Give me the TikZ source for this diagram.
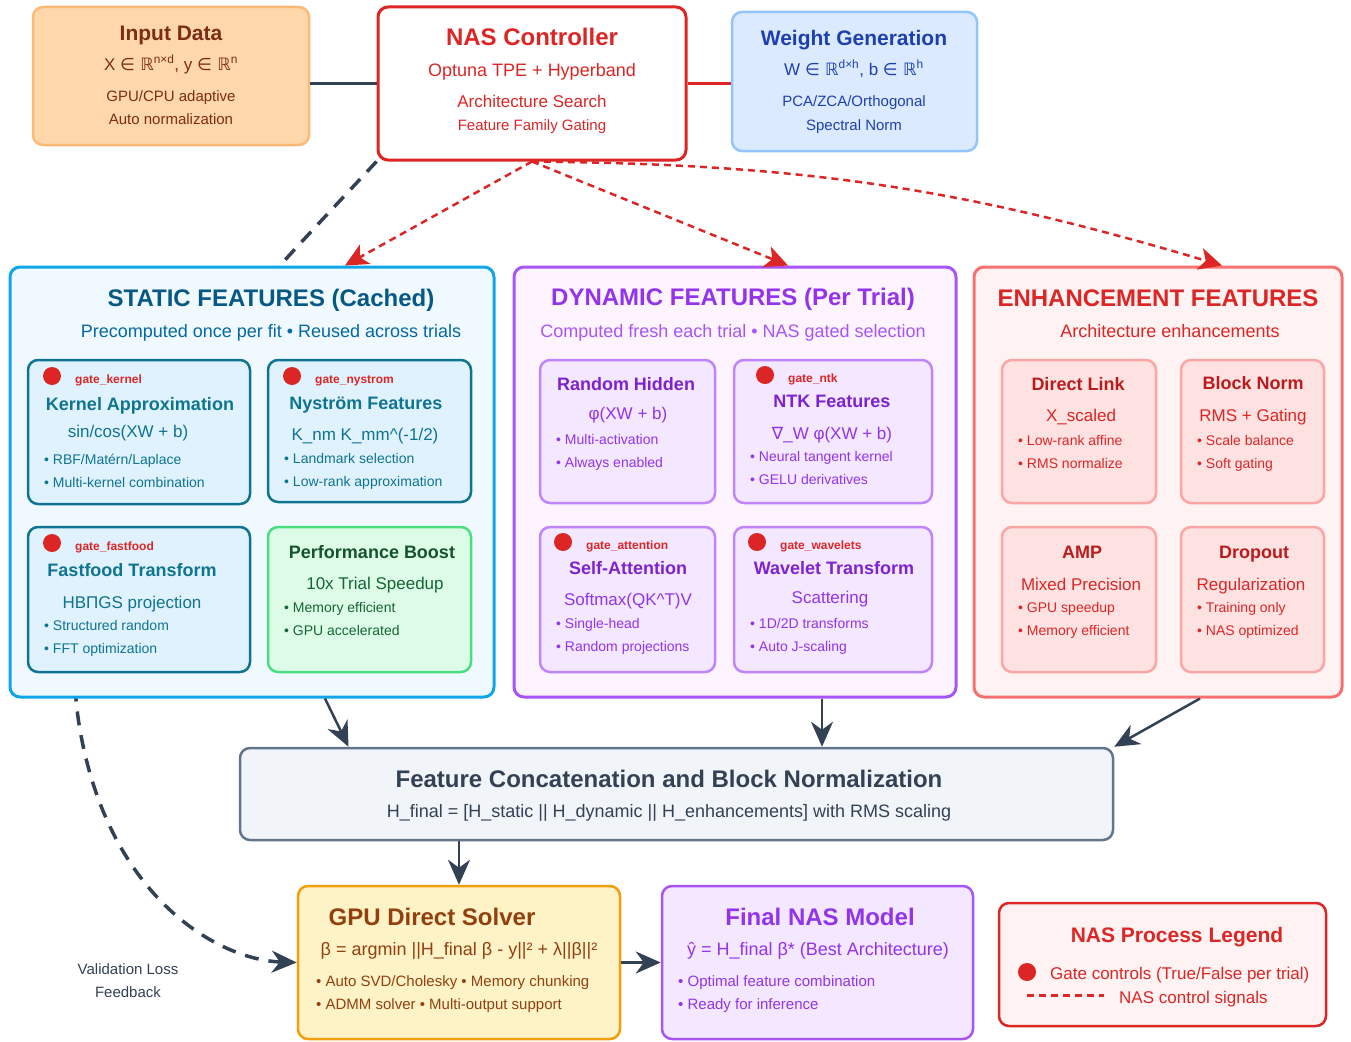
\documentclass[tikz,border=0pt]{standalone}
\usepackage{fontspec}
\setmainfont{Liberation Sans}
\newfontfamily\dejavu{DejaVu Sans}
\usetikzlibrary{arrows.meta}
\definecolor{NasRed}{HTML}{DC2626}
\definecolor{SlateDark}{HTML}{334155}
\definecolor{SlateLine}{HTML}{64748B}
\definecolor{SlateFill}{HTML}{F1F5F9}
\definecolor{InputFill}{HTML}{FED7AA}
\definecolor{InputLine}{HTML}{FDBA74}
\definecolor{InputText}{HTML}{7C2D12}
\definecolor{WeightFill}{HTML}{DBEAFE}
\definecolor{WeightLine}{HTML}{93C5FD}
\definecolor{WeightText}{HTML}{1E40AF}
\definecolor{StaticFill}{HTML}{F0F9FF}
\definecolor{StaticLine}{HTML}{0EA5E9}
\definecolor{StaticText}{HTML}{075985}
\definecolor{StaticSub}{HTML}{0369A1}
\definecolor{CardBlue}{HTML}{E0F2FE}
\definecolor{CardTeal}{HTML}{0E7490}
\definecolor{BoostFill}{HTML}{DCFCE7}
\definecolor{BoostLine}{HTML}{4ADE80}
\definecolor{BoostText}{HTML}{166534}
\definecolor{BoostHead}{HTML}{14532D}
\definecolor{DynFill}{HTML}{FDF4FF}
\definecolor{DynLine}{HTML}{A855F7}
\definecolor{DynText}{HTML}{9333EA}
\definecolor{CardPurple}{HTML}{F3E8FF}
\definecolor{CardPurpleLine}{HTML}{C084FC}
\definecolor{CardPurpleHead}{HTML}{7E22CE}
\definecolor{EnhFill}{HTML}{FEF2F2}
\definecolor{EnhLine}{HTML}{F87171}
\definecolor{EnhCard}{HTML}{FEE2E2}
\definecolor{EnhCardLine}{HTML}{FCA5A5}
\definecolor{EnhHead}{HTML}{B91C1C}
\definecolor{SolverFill}{HTML}{FEF3C7}
\definecolor{SolverLine}{HTML}{F59E0B}
\definecolor{SolverText}{HTML}{92400E}

\tikzset{
  panel/.style 2 args={draw=#1, fill=#2, line width=2.5pt, rounded corners=10pt, inner sep=0pt},
  dot/.style={circle, fill=NasRed, minimum size=18pt, inner sep=0pt},
  bighead/.style={inner sep=0pt, font=\fontsize{24}{28}\selectfont\bfseries, text height=17.2pt, text depth=0pt},
  midhead/.style={inner sep=0pt, font=\fontsize{21}{25}\selectfont\bfseries, text height=15pt, text depth=0pt},
  cardhead/.style={inner sep=0pt, font=\fontsize{18}{22}\selectfont\bfseries, text height=12.9pt, text depth=0pt},
  lead/.style={inner sep=0pt, font=\fontsize{18}{22}\selectfont, text height=12.9pt, text depth=0pt},
  eqn/.style={inner sep=0pt, font=\fontsize{17}{20}\selectfont, text height=12.2pt, text depth=0pt},
  smalltxt/.style={inner sep=0pt, font=\fontsize{15}{18}\selectfont, text height=10.7pt, text depth=0pt},
  bul/.style={inner sep=0pt, anchor=west, font=\fontsize{14}{17}\selectfont, text height=10pt, text depth=0pt},
  gatelbl/.style={inner sep=0pt, anchor=west, text=NasRed, font=\fontsize{12}{14}\selectfont\bfseries, text height=8.6pt, text depth=0pt},
  flow/.style={SlateDark, line width=2.5pt, -{Stealth[length=25pt,width=22pt,inset=8pt]}},
  ctrl/.style={NasRed, line width=2.5pt, dash pattern=on 7pt off 5pt, -{Stealth[length=23pt,width=22pt,inset=6pt]}},
}

\begin{document}
\begin{tikzpicture}[x=1pt,y=-1pt,line join=round]
  \useasboundingbox (0,0) rectangle (1351,1041);

  % top row
  \node[panel={InputLine}{InputFill}, minimum width=276pt, minimum height=138pt] (inp) at (171,76) {};
  \node[midhead, text=InputText] (inpT) at (171,33) {Input Data};
  \node[eqn, text=InputText] (inpE) at (171,64) {X {\dejavu ∈ ℝ}\textsuperscript{n×d}, y {\dejavu ∈ ℝ}\textsuperscript{n}};
  \node[smalltxt, text=InputText] (inpA) at (171,96) {GPU/CPU adaptive};
  \node[smalltxt, text=InputText] (inpB) at (171,119) {Auto normalization};

  \node[panel={NasRed}{white}, line width=3pt, minimum width=308pt, minimum height=153pt] (nas) at (532,83.5) {};
  \node[bighead, text=NasRed] (nasT) at (532,37) {NAS Controller};
  \node[lead, text=NasRed] (nasA) at (532,70) {Optuna TPE + Hyperband};
  \node[eqn, text=NasRed] (nasB) at (532,101) {Architecture Search};
  \node[smalltxt, text=NasRed] (nasC) at (532,125) {Feature Family Gating};

  \node[panel={WeightLine}{WeightFill}, minimum width=245pt, minimum height=139pt] (wgt) at (854.5,81.5) {};
  \node[midhead, text=WeightText] (wgtT) at (854,38) {Weight Generation};
  \node[eqn, text=WeightText] (wgtE) at (854,69) {W {\dejavu ∈ ℝ}\textsuperscript{d×h}, b {\dejavu ∈ ℝ}\textsuperscript{h}};
  \node[smalltxt, text=WeightText] (wgtA) at (854,101) {PCA/ZCA/Orthogonal};
  \node[smalltxt, text=WeightText] (wgtB) at (854,125) {Spectral Norm};

  \draw[SlateDark, line width=2.5pt] (inp.east |- nas.west) -- (nas.west);
  \draw[NasRed, line width=2.5pt] (nas.east) -- (wgt.west |- nas.east);

  % bottom row
  \node[panel={SlateLine}{SlateFill}, minimum width=873pt, minimum height=92pt] (cat) at (676.5,794) {};
  \node[bighead, text=SlateDark] (catT) at (669,779) {Feature Concatenation and Block Normalization};
  \node[lead, text=SlateDark] (catE) at (669,811) {H\_final = [H\_static || H\_dynamic || H\_enhancements] with RMS scaling};

  \node[panel={SolverLine}{SolverFill}, minimum width=322pt, minimum height=153pt] (gpu) at (459,962.5) {};
  \node[bighead, text=SolverText] (gpuT) at (432,917) {GPU Direct Solver};
  \node[lead, text=SolverText] (gpuE) at (459,949) {β = argmin ||H\_final β - y||² + λ||β||²};
  \node[bul, font=\fontsize{15}{18}\selectfont, text=SolverText] (gpuA) at (316,981) {• Auto SVD/Cholesky • Memory chunking};
  \node[bul, font=\fontsize{15}{18}\selectfont, text=SolverText] (gpuB) at (316,1004) {• ADMM solver • Multi-output support};

  \node[panel={DynLine}{CardPurple}, minimum width=311pt, minimum height=153pt] (fin) at (817.5,962.5) {};
  \node[bighead, text=DynText] (finT) at (820,917) {Final NAS Model};
  \node[lead, text=DynText] (finE) at (818,949) {ŷ = H\_final β* (Best Architecture)};
  \node[bul, font=\fontsize{15}{18}\selectfont, text=DynText] (finA) at (678,981) {• Optimal feature combination};
  \node[bul, font=\fontsize{15}{18}\selectfont, text=DynText] (finB) at (678,1004) {• Ready for inference};

  \node[panel={NasRed}{EnhFill}, minimum width=327pt, minimum height=123pt] (leg) at (1162.5,964.5) {};
  \node[midhead, text=NasRed] (legT) at (1177,935) {NAS Process Legend};
  \node[dot] (legDot) at (1027,972) {};
  \node[bul, font=\fontsize{17}{20}\selectfont, text=NasRed] (legA) at (1050,974) {Gate controls (True/False per trial)};
  \coordinate (legL) at (1027,995);
  \coordinate (legR) at (1104,995);
  \draw[NasRed, line width=3pt, dash pattern=on 7pt off 5pt] (legL) -- (legR);
  \node[bul, font=\fontsize{17}{20}\selectfont, text=NasRed] (legB) at (1119,998) {NAS control signals};

  % feedback loop, drawn before the static panel which hides its middle
  \coordinate (fbMid) at (80,730);
  \draw[SlateDark, line width=3.5pt, dash pattern=on 14pt off 10pt, -{Stealth[length=25pt,width=22pt,inset=8pt]}]
    (nas.south west) .. controls (230,320) and (40,500) .. (fbMid)
    .. controls (110,900) and (220,960) .. (gpu.west);
  \node[smalltxt, text=SlateDark] (fbA) at (128,969) {Validation Loss};
  \node[smalltxt, text=SlateDark] (fbB) at (128,992) {Feedback};

  % static panel
  \node[panel={StaticLine}{StaticFill}, line width=3pt, minimum width=484pt, minimum height=430pt] (stat) at (252,482) {};
  \node[bighead, text=StaticText] (statT) at (271,298) {STATIC FEATURES (Cached)};
  \node[lead, text=StaticSub] (statS) at (271,331) {Precomputed once per fit • Reused across trials};
  \begin{scope}[text=CardTeal]
    \node[panel={CardTeal}{CardBlue}, minimum width=222pt, minimum height=144pt] (kern) at (139,432) {};
    \node[dot] (kernDot) at (52,376) {};
    \node[gatelbl] (kernG) at (75,379) {gate\_kernel};
    \node[cardhead] (kernT) at (140,404) {Kernel Approximation};
    \node[eqn] (kernE) at (128,431) {sin/cos(XW + b)};
    \node[bul] (kernA) at (44,459) {• RBF/Matérn/Laplace};
    \node[bul] (kernB) at (44,482) {• Multi-kernel combination};

    \node[panel={CardTeal}{CardBlue}, minimum width=203pt, minimum height=142pt] (nys) at (369.5,431) {};
    \node[dot] (nysDot) at (292,376) {};
    \node[gatelbl] (nysG) at (315,379) {gate\_nystrom};
    \node[cardhead] (nysT) at (366,403) {Nyström Features};
    \node[eqn] (nysE) at (365,434) {K\_nm K\_mm\textasciicircum(-1/2)};
    \node[bul] (nysA) at (284,458) {• Landmark selection};
    \node[bul] (nysB) at (284,481) {• Low-rank approximation};

    \node[panel={CardTeal}{CardBlue}, minimum width=222pt, minimum height=145pt] (ffd) at (139,599.5) {};
    \node[dot] (ffdDot) at (52,543) {};
    \node[gatelbl] (ffdG) at (75,546) {gate\_fastfood};
    \node[cardhead] (ffdT) at (132,570) {Fastfood Transform};
    \node[eqn] (ffdE) at (132,602) {HBΠGS projection};
    \node[bul] (ffdA) at (44,625) {• Structured random};
    \node[bul] (ffdB) at (44,648) {• FFT optimization};
  \end{scope}
  \begin{scope}[text=BoostText]
    \node[panel={BoostLine}{BoostFill}, minimum width=203pt, minimum height=145pt] (perf) at (369.5,599.5) {};
    \node[cardhead, text=BoostHead] (perfT) at (372,552) {Performance Boost};
    \node[eqn] (perfE) at (375,583) {10x Trial Speedup};
    \node[bul] (perfA) at (284,607) {• Memory efficient};
    \node[bul] (perfB) at (284,630) {• GPU accelerated};
  \end{scope}

  % dynamic panel
  \node[panel={DynLine}{DynFill}, line width=3pt, minimum width=442pt, minimum height=430pt] (dyn) at (735,482) {};
  \node[bighead, text=DynText] (dynT) at (733,297) {DYNAMIC FEATURES (Per Trial)};
  \node[lead, text=DynLine] (dynS) at (733,331) {Computed fresh each trial • NAS gated selection};
  \begin{scope}[text=DynText]
    \node[panel={CardPurpleLine}{CardPurple}, minimum width=175pt, minimum height=143pt] (rnd) at (627.5,431.5) {};
    \node[cardhead, text=CardPurpleHead] (rndT) at (626,384) {Random Hidden};
    \node[eqn] (rndE) at (628,413) {φ(XW + b)};
    \node[bul] (rndA) at (556,439) {• Multi-activation};
    \node[bul] (rndB) at (556,462) {• Always enabled};

    \node[panel={CardPurpleLine}{CardPurple}, minimum width=198pt, minimum height=143pt] (ntk) at (833,431.5) {};
    \node[dot] (ntkDot) at (765,375) {};
    \node[gatelbl] (ntkG) at (788,378) {gate\_ntk};
    \node[cardhead, text=CardPurpleHead] (ntkT) at (832,401) {NTK Features};
    \node[eqn] (ntkE) at (832,433) {{\dejavu ∇}\_W φ(XW + b)};
    \node[bul] (ntkA) at (750,456) {• Neural tangent kernel};
    \node[bul] (ntkB) at (750,479) {• GELU derivatives};

    \node[panel={CardPurpleLine}{CardPurple}, minimum width=175pt, minimum height=145pt] (att) at (627.5,599.5) {};
    \node[dot] (attDot) at (563,542) {};
    \node[gatelbl] (attG) at (586,545) {gate\_attention};
    \node[cardhead, text=CardPurpleHead] (attT) at (628,568) {Self-Attention};
    \node[eqn] (attE) at (628,599) {Softmax(QK\textasciicircum T)V};
    \node[bul] (attA) at (556,623) {• Single-head};
    \node[bul] (attB) at (556,646) {• Random projections};

    \node[panel={CardPurpleLine}{CardPurple}, minimum width=198pt, minimum height=145pt] (wav) at (833,599.5) {};
    \node[dot] (wavDot) at (757,542) {};
    \node[gatelbl] (wavG) at (780,545) {gate\_wavelets};
    \node[cardhead, text=CardPurpleHead] (wavT) at (834,568) {Wavelet Transform};
    \node[eqn] (wavE) at (830,597) {Scattering};
    \node[bul] (wavA) at (750,623) {• 1D/2D transforms};
    \node[bul] (wavB) at (750,646) {• Auto J-scaling};
  \end{scope}

  % enhancement panel
  \node[panel={EnhLine}{EnhFill}, line width=3pt, minimum width=368pt, minimum height=430pt] (enh) at (1158,482) {};
  \node[bighead, text=NasRed] (enhT) at (1158,298) {ENHANCEMENT FEATURES};
  \node[lead, text=NasRed] (enhS) at (1170,331) {Architecture enhancements};
  \begin{scope}[text=NasRed]
    \node[panel={EnhCardLine}{EnhCard}, minimum width=154pt, minimum height=143pt] (dlk) at (1079,431.5) {};
    \node[cardhead, text=EnhHead] (dlkT) at (1078,384) {Direct Link};
    \node[eqn] (dlkE) at (1081,415) {X\_scaled};
    \node[bul] (dlkA) at (1018,440) {• Low-rank affine};
    \node[bul] (dlkB) at (1018,463) {• RMS normalize};

    \node[panel={EnhCardLine}{EnhCard}, minimum width=143pt, minimum height=143pt] (bnm) at (1252.5,431.5) {};
    \node[cardhead, text=EnhHead] (bnmT) at (1253,383) {Block Norm};
    \node[eqn] (bnmE) at (1253,415) {RMS + Gating};
    \node[bul] (bnmA) at (1197,440) {• Scale balance};
    \node[bul] (bnmB) at (1197,463) {• Soft gating};

    \node[panel={EnhCardLine}{EnhCard}, minimum width=154pt, minimum height=145pt] (amp) at (1079,599.5) {};
    \node[cardhead, text=EnhHead] (ampT) at (1082,552) {AMP};
    \node[eqn] (ampE) at (1081,584) {Mixed Precision};
    \node[bul] (ampA) at (1018,607) {• GPU speedup};
    \node[bul] (ampB) at (1018,630) {• Memory efficient};

    \node[panel={EnhCardLine}{EnhCard}, minimum width=143pt, minimum height=145pt] (drp) at (1252.5,599.5) {};
    \node[cardhead, text=EnhHead] (drpT) at (1254,552) {Dropout};
    \node[eqn] (drpE) at (1251,584) {Regularization};
    \node[bul] (drpA) at (1197,607) {• Training only};
    \node[bul] (drpB) at (1197,630) {• NAS optimized};
  \end{scope}

  % NAS control signals
  \draw[ctrl] (nas.south) -- ([xshift=93pt]stat.north);
  \draw[ctrl] (nas.south) -- ([xshift=53pt]dyn.north);
  \draw[ctrl] (nas.south) to[bend left=8] ([xshift=64pt]enh.north);

  % feature flow
  \draw[flow] ([xshift=73pt]stat.south) -- ([xshift=-328pt]cat.north);
  \draw[flow] ([xshift=87pt]dyn.south) -- ([xshift=87pt]dyn.south |- cat.north);
  \draw[flow] ([xshift=42pt]enh.south) -- (cat.north east);
  \draw[flow] (cat.south -| gpu.north) -- (gpu.north);
  \draw[flow] (gpu.east) -- (fin.west);
\end{tikzpicture}
\end{document}
